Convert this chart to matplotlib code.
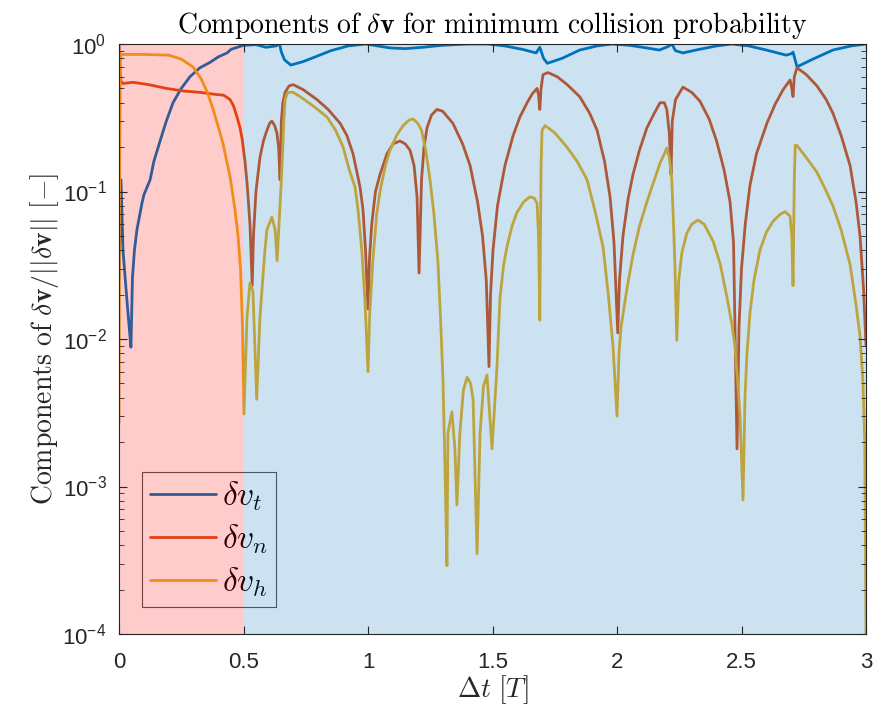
import matplotlib
matplotlib.use("Agg")
import matplotlib.pyplot as plt
from matplotlib.ticker import LogLocator, NullFormatter, FixedLocator

plt.rcParams['font.family'] = ['Liberation Sans', 'DejaVu Sans']
plt.rcParams['mathtext.fontset'] = 'cm'

# ---- data ----
t_x = [0, 0.008, 0.016, 0.03, 0.046, 0.048, 0.054, 0.062, 0.072, 0.092, 0.1, 0.125, 0.14, 0.165,
       0.19, 0.217, 0.25, 0.285, 0.325, 0.365, 0.4, 0.434, 0.45, 0.5, 0.55, 0.59, 0.63, 0.645, 0.652,
       0.665, 0.69, 0.74, 0.79, 0.85, 0.92, 0.99, 1.09, 1.15, 1.22, 1.3, 1.4, 1.48, 1.55, 1.62, 1.675,
       1.69, 1.705, 1.72, 1.78, 1.85, 1.92, 1.98, 2.05, 2.12, 2.17, 2.205, 2.22, 2.235, 2.265, 2.33,
       2.4, 2.46, 2.53, 2.6, 2.68, 2.7, 2.707, 2.723, 2.78, 2.867, 2.94, 3.0]
t_y = [0.025, 0.12, 0.04, 0.02, 0.0095, 0.0088, 0.026, 0.04, 0.055, 0.083, 0.095, 0.12, 0.16, 0.22,
       0.30, 0.40, 0.50, 0.60, 0.69, 0.75, 0.82, 0.87, 0.92, 0.98, 0.99, 0.95, 0.97, 1.0, 0.88,
       0.78, 0.72, 0.76, 0.82, 0.9, 0.97, 1.0, 0.94, 0.93, 0.95, 0.98, 1.0, 1.0, 0.97, 0.92, 0.87,
       0.95, 0.8, 0.74, 0.8, 0.91, 0.97, 1.0, 0.98, 0.94, 0.91, 0.96, 1.0, 0.9, 0.87, 0.92,
       0.97, 1.0, 0.97, 0.91, 0.84, 0.86, 0.88, 0.70, 0.78, 0.91, 0.97, 1.0]

n_x = [0, 0.003, 0.008, 0.016, 0.056, 0.12, 0.19, 0.26, 0.325, 0.39, 0.42, 0.446, 0.46, 0.474,
       0.486, 0.494, 0.506, 0.515, 0.526, 0.535, 0.54, 0.55, 0.566, 0.58, 0.594, 0.605, 0.614, 0.625,
       0.634, 0.641, 0.647, 0.652, 0.658, 0.667, 0.683, 0.7, 0.74, 0.795, 0.84, 0.888, 0.915, 0.94,
       0.968, 0.98, 0.99, 1.0, 1.006, 1.015, 1.03, 1.048, 1.076, 1.1, 1.128, 1.15, 1.169, 1.185,
       1.197, 1.205, 1.215, 1.225, 1.237, 1.255, 1.277, 1.3, 1.341, 1.38, 1.41, 1.44, 1.46, 1.475,
       1.486, 1.492, 1.502, 1.52, 1.55, 1.583, 1.61, 1.639, 1.66, 1.679, 1.685, 1.69, 1.695, 1.703,
       1.723, 1.76, 1.8, 1.85, 1.89, 1.92, 1.95, 1.972, 1.988, 2.003, 2.01, 2.024, 2.045, 2.064,
       2.09, 2.12, 2.15, 2.173, 2.19, 2.2, 2.21, 2.217, 2.222, 2.235, 2.265, 2.3, 2.333, 2.37, 2.4,
       2.43, 2.454, 2.468, 2.482, 2.49, 2.5, 2.515, 2.534, 2.56, 2.602, 2.635, 2.667, 2.695, 2.702,
       2.707, 2.712, 2.723, 2.76, 2.803, 2.84, 2.867, 2.9, 2.936, 2.96, 2.976, 2.99, 3.0]
n_y = [1.0, 0.7, 0.56, 0.54, 0.55, 0.53, 0.50, 0.48, 0.47, 0.455, 0.45, 0.42, 0.38, 0.32,
       0.27, 0.23, 0.16, 0.11, 0.06, 0.023, 0.05, 0.1, 0.17, 0.22, 0.26, 0.29, 0.30, 0.28,
       0.25, 0.2, 0.12, 0.3, 0.4, 0.47, 0.52, 0.53, 0.49, 0.42, 0.36, 0.29, 0.24, 0.18,
       0.107, 0.075, 0.04, 0.016, 0.035, 0.06, 0.1, 0.13, 0.18, 0.21, 0.22, 0.21, 0.19, 0.15,
       0.092, 0.028, 0.12, 0.2, 0.27, 0.33, 0.36, 0.35, 0.29, 0.21, 0.15, 0.085, 0.05, 0.025,
       0.0065, 0.02, 0.04, 0.08, 0.15, 0.24, 0.32, 0.40, 0.46, 0.50, 0.45, 0.36, 0.5, 0.62,
       0.64, 0.6, 0.53, 0.44, 0.34, 0.26, 0.16, 0.092, 0.045, 0.011, 0.025, 0.05, 0.09, 0.13,
       0.19, 0.27, 0.34, 0.40, 0.40, 0.36, 0.25, 0.13, 0.3, 0.42, 0.51, 0.47, 0.41, 0.31, 0.22,
       0.14, 0.085, 0.045, 0.0018, 0.012, 0.03, 0.06, 0.11, 0.18, 0.29, 0.39, 0.49, 0.57, 0.5,
       0.44, 0.6, 0.69, 0.62, 0.52, 0.42, 0.34, 0.24, 0.15, 0.085, 0.05, 0.022, 0.009]

h_x = [0, 0.003, 0.006, 0.01, 0.1, 0.2, 0.25, 0.297, 0.33, 0.355, 0.378, 0.4, 0.418, 0.446, 0.466,
       0.478, 0.488, 0.496, 0.502, 0.514, 0.526, 0.538, 0.553, 0.566, 0.586, 0.594, 0.614, 0.627,
       0.635, 0.654, 0.662, 0.667, 0.677, 0.70, 0.727, 0.78, 0.835, 0.87, 0.9, 0.925, 0.948, 0.96,
       0.975, 0.988, 1.0, 1.007, 1.02, 1.035, 1.048, 1.07, 1.088, 1.115, 1.141, 1.165, 1.181, 1.2,
       1.215, 1.232, 1.249, 1.265, 1.281, 1.292, 1.301, 1.309, 1.317, 1.321, 1.337, 1.349, 1.357,
       1.369, 1.383, 1.398, 1.412, 1.422, 1.438, 1.45, 1.464, 1.478, 1.498, 1.518, 1.53, 1.545,
       1.558, 1.578, 1.598, 1.625, 1.65, 1.668, 1.679, 1.685, 1.69, 1.695, 1.699, 1.711, 1.75, 1.799,
       1.84, 1.88, 1.915, 1.944, 1.965, 1.984, 2.0, 2.008, 2.016, 2.04, 2.064, 2.09, 2.12, 2.15,
       2.173, 2.19, 2.2, 2.21, 2.22, 2.227, 2.233, 2.24, 2.248, 2.26, 2.28, 2.3, 2.325, 2.35, 2.386,
       2.415, 2.442, 2.46, 2.474, 2.485, 2.494, 2.506, 2.514, 2.522, 2.534, 2.55, 2.574, 2.6, 2.627,
       2.655, 2.675, 2.695, 2.702, 2.707, 2.712, 2.716, 2.723, 2.76, 2.803, 2.835, 2.867, 2.9,
       2.936, 2.96, 2.976, 2.988, 2.995, 3.0]
h_y = [0.0027, 0.2, 0.8, 0.85, 0.85, 0.84, 0.79, 0.70, 0.58, 0.47, 0.36, 0.27, 0.21, 0.126, 0.075,
       0.05, 0.03, 0.012, 0.0031, 0.014, 0.024, 0.021, 0.0039, 0.014, 0.04, 0.055, 0.067, 0.055,
       0.034, 0.14, 0.3, 0.42, 0.47, 0.47, 0.44, 0.38, 0.32, 0.26, 0.2, 0.14, 0.107, 0.075,
       0.04, 0.018, 0.006, 0.015, 0.035, 0.07, 0.1, 0.15, 0.19, 0.24, 0.28, 0.305, 0.31, 0.29,
       0.26, 0.19, 0.12, 0.07, 0.033, 0.013, 0.0053, 0.0014, 0.00029, 0.0023, 0.0032, 0.0018, 0.00075,
       0.0023, 0.0045, 0.0055, 0.005, 0.0039, 0.00035, 0.0023, 0.0048, 0.0057, 0.0018, 0.0065, 0.019,
       0.032, 0.042, 0.058, 0.072, 0.085, 0.092, 0.09, 0.083, 0.05, 0.0134, 0.15, 0.26, 0.28, 0.25,
       0.20, 0.16, 0.12, 0.07, 0.042, 0.02, 0.0089, 0.003, 0.008, 0.012, 0.022, 0.037, 0.058, 0.085,
       0.12, 0.156, 0.18, 0.197, 0.17, 0.12, 0.06, 0.03, 0.0098, 0.025, 0.038, 0.052, 0.06, 0.064,
       0.06, 0.046, 0.032, 0.019, 0.013, 0.0089, 0.005, 0.003, 0.00081, 0.004, 0.008, 0.015, 0.025,
       0.04, 0.053, 0.063, 0.07, 0.073, 0.068, 0.05, 0.023, 0.12, 0.206, 0.205, 0.17, 0.135, 0.105,
       0.08, 0.055, 0.032, 0.017, 0.0105, 0.005, 0.002, 0.0001]

regions = [(0, 0.5), (0.5, 3.0)]
region_colors = [(1.0, 0.0, 0.0), (0.0, 0.447, 0.741)]
labels = [r'$\delta v_t$', r'$\delta v_n$', r'$\delta v_h$']
colors = ['#0072BD', '#D95319', '#EDB120']
x_ticks = [0, 0.5, 1, 1.5, 2, 2.5, 3]
x_ticklabels = ['0', '0.5', '1', '1.5', '2', '2.5', '3']

fig = plt.figure(figsize=(8.83, 7.13), dpi=100)
ax = fig.add_axes([119/883, 1-634/713, (866-119)/883, (634-44)/713])

lines = []
for xs, ys, c, lab in zip([t_x, n_x, h_x], [t_y, n_y, h_y], colors, labels):
    ln, = ax.plot(xs, ys, color=c, lw=2.0, label=lab, zorder=2,
                  solid_joinstyle='round', solid_capstyle='round')
    lines.append(ln)

for (a, b), c in zip(regions, region_colors):
    ax.axvspan(a, b, color=c, alpha=0.2, lw=0, zorder=3)

ax.set_yscale('log')
ax.set_xlim(0, 3)
ax.set_ylim(1e-4, 1)
ax.xaxis.set_major_locator(FixedLocator(x_ticks))
ax.set_xticklabels(x_ticklabels)
ax.yaxis.set_major_locator(LogLocator(base=10, numticks=10))
ax.yaxis.set_minor_locator(LogLocator(base=10, subs=range(2, 10), numticks=20))
ax.yaxis.set_minor_formatter(NullFormatter())

dark = (0.15, 0.15, 0.15)
ax.tick_params(which='both', direction='in', top=True, right=True, colors=dark,
               labelcolor=dark, labelsize=16)
ax.tick_params(which='major', length=6, width=0.8)
ax.tick_params(which='minor', length=3.5, width=0.6)
ax.tick_params(axis='x', which='major', pad=13)
ax.tick_params(axis='y', which='major', pad=9)
for sp in ax.spines.values():
    sp.set_color(dark)
    sp.set_linewidth(0.8)
    sp.set_zorder(4)
ax.xaxis.set_zorder(4)
ax.yaxis.set_zorder(4)

ax.set_title(r'$\mathrm{Components\ of\ }\delta\mathbf{v}\mathrm{\ for\ minimum\ collision\ probability}$',
             fontsize=20, color='k', pad=8)
ax.set_ylabel(r'$\mathrm{Components\ of\ }\delta\mathbf{v}/||\delta\mathbf{v}||\ \mathrm{[-]}$',
              fontsize=20, color=dark, labelpad=1)
ax.set_xlabel(r'$\Delta t\ [T]$', fontsize=20, color=dark, labelpad=0)

leg = ax.legend(handles=lines, loc='lower left', bbox_to_anchor=(0.031, 0.046),
                borderaxespad=0, fontsize=24, handlelength=2.0, handletextpad=0.18,
                labelspacing=0.28, borderpad=0.23, fancybox=False, frameon=True)
leg.get_frame().set_facecolor('none')
leg.get_frame().set_edgecolor(dark)
leg.get_frame().set_linewidth(0.8)
leg.set_zorder(2.5)

fig.savefig('out.png', dpi=100)
